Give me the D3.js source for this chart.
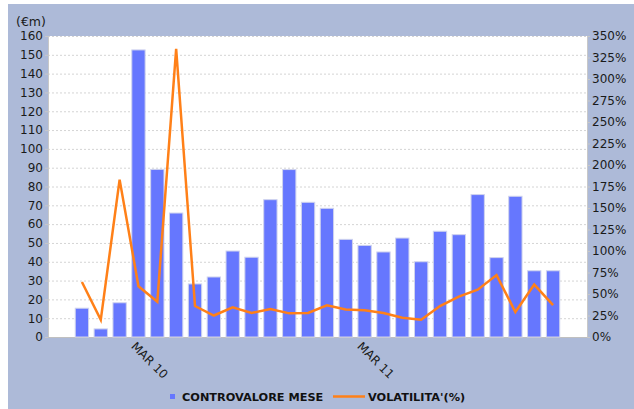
<!DOCTYPE html>
<html>
<head>
<meta charset="utf-8">
<script src="https://cdn.jsdelivr.net/npm/d3@7"></script>
<style>
  html, body { margin: 0; padding: 0; background: #ffffff; }
  svg { display: block; font-family: "DejaVu Sans", sans-serif; }
</style>
</head>
<body>
<svg id="chart" width="634" height="409"></svg>
<script>
// ---- data ----
const months = ["DIC 09","GEN 10","FEB 10","MAR 10","APR 10","MAG 10","GIU 10","LUG 10","AGO 10","SET 10","OTT 10","NOV 10","DIC 10",
  "GEN 11","FEB 11","MAR 11","APR 11","MAG 11","GIU 11","LUG 11","AGO 11","SET 11","OTT 11","NOV 11","DIC 11","GEN 12"];
const controvalore = [15.3, 4.3, 18.2, 152.6, 89.1, 65.9, 28.2, 31.9, 45.7, 42.4, 73, 89, 71.6, 68.4, 51.9, 48.7,
  45.2, 52.6, 40, 56.2, 54.4, 75.7, 42.2, 74.8, 35.2, 35.2];
const volatilita = [64, 20, 183, 59, 41, 335, 36, 25, 34.5, 28, 32.6, 27.5, 28, 36.8, 32, 31,
  28, 22.5, 20, 36, 47, 55, 72, 29, 61, 37];
const shownLabels = ["MAR 10", "MAR 11"];
const leftTicks = d3.range(0, 161, 10);
const rightTicks = d3.range(0, 351, 25);
const seriesNames = ["CONTROVALORE MESE", "VOLATILITA'(%)"];
const unitLabel = "(€m)";

// ---- layout ----
const svg = d3.select("#chart");
const W = 634, H = 409;
const plot = { x0: 48, x1: 587, y0: 36, y1: 337 };
const barColor = "#6677fe", lineColor = "#ff8018", bg = "#adbad8";

svg.append("rect").attr("x", 8).attr("y", 4).attr("width", W - 8).attr("height", H - 4).attr("fill", bg);
svg.append("rect").attr("x", plot.x0).attr("y", plot.y0)
  .attr("width", plot.x1 - plot.x0).attr("height", plot.y1 - plot.y0)
  .attr("fill", "#ffffff");

const x = d3.scaleBand().domain(months).range([plot.x0, plot.x1]).paddingInner(0.24).paddingOuter(1.42);
const yL = d3.scaleLinear().domain([0, 160]).range([plot.y1, plot.y0]);
const yR = d3.scaleLinear().domain([0, 350]).range([plot.y1, plot.y0]);

// grid
svg.append("g").selectAll("line").data(leftTicks.slice(1)).join("line")
  .attr("x1", plot.x0).attr("x2", plot.x1)
  .attr("y1", d => yL(d) + 0.5).attr("y2", d => yL(d) + 0.5)
  .attr("stroke", "#d4d4d4").attr("stroke-width", 1).attr("stroke-dasharray", "2,2");

// left axis
const gL = svg.append("g").attr("transform", `translate(${plot.x0},0)`)
  .call(d3.axisLeft(yL).tickValues(leftTicks).tickSize(3).tickPadding(2));
gL.select(".domain").attr("stroke", "#c8c8c8");
gL.selectAll(".tick line").attr("stroke", "#c8c8c8");
gL.selectAll("text").attr("font-size", 12).attr("fill", "#1a1a1a").attr("font-family", "DejaVu Sans");

// right axis
const gR = svg.append("g").attr("transform", `translate(${plot.x1},0)`)
  .call(d3.axisRight(yR).tickValues(rightTicks).tickFormat(d => d + "%").tickSize(3).tickPadding(2));
gR.select(".domain").attr("stroke", "#c8c8c8");
gR.selectAll(".tick line").attr("stroke", "#c8c8c8");
gR.selectAll("text").attr("font-size", 12).attr("fill", "#1a1a1a").attr("font-family", "DejaVu Sans");

// bottom axis line
svg.append("line").attr("x1", plot.x0).attr("x2", plot.x1)
  .attr("y1", plot.y1 + 0.5).attr("y2", plot.y1 + 0.5).attr("stroke", "#c0c0c0");

// bars
svg.append("g").selectAll("rect").data(months).join("rect")
  .attr("x", d => x(d) + 0.5)
  .attr("y", (d, i) => yL(controvalore[i]))
  .attr("width", x.bandwidth() - 1)
  .attr("height", (d, i) => plot.y1 - yL(controvalore[i]))
  .attr("fill", barColor).attr("stroke", "#cfd3ee").attr("stroke-width", 1);

// line
const line = d3.line().x((d, i) => x(months[i]) + x.bandwidth() / 2).y(d => yR(d));
svg.append("path").datum(volatilita).attr("d", line)
  .attr("fill", "none").attr("stroke", lineColor).attr("stroke-width", 2.5).attr("stroke-linejoin", "miter");

// x labels
svg.append("g").selectAll("text").data(shownLabels).join("text")
  .attr("transform", d => `translate(${x(d) + x.bandwidth() / 2 - 8},${plot.y1 + 10}) rotate(45)`)
  .attr("font-size", 12).attr("fill", "#1a1a1a").text(d => d);

// unit label
svg.append("text").attr("x", 16).attr("y", 26).attr("font-size", 12.5).attr("fill", "#1a1a1a").text(unitLabel);

// legend
svg.append("rect").attr("x", 170).attr("y", 394).attr("width", 5).attr("height", 5).attr("fill", barColor);
svg.append("text").attr("x", 182).attr("y", 401).attr("font-size", 11.3).attr("font-weight", "bold")
  .attr("fill", "#111").text(seriesNames[0]);
svg.append("line").attr("x1", 333).attr("x2", 365).attr("y1", 396.5).attr("y2", 396.5)
  .attr("stroke", lineColor).attr("stroke-width", 2.5);
svg.append("text").attr("x", 368).attr("y", 401).attr("font-size", 11.3).attr("font-weight", "bold")
  .attr("fill", "#111").text(seriesNames[1]);
</script>
</body>
</html>
